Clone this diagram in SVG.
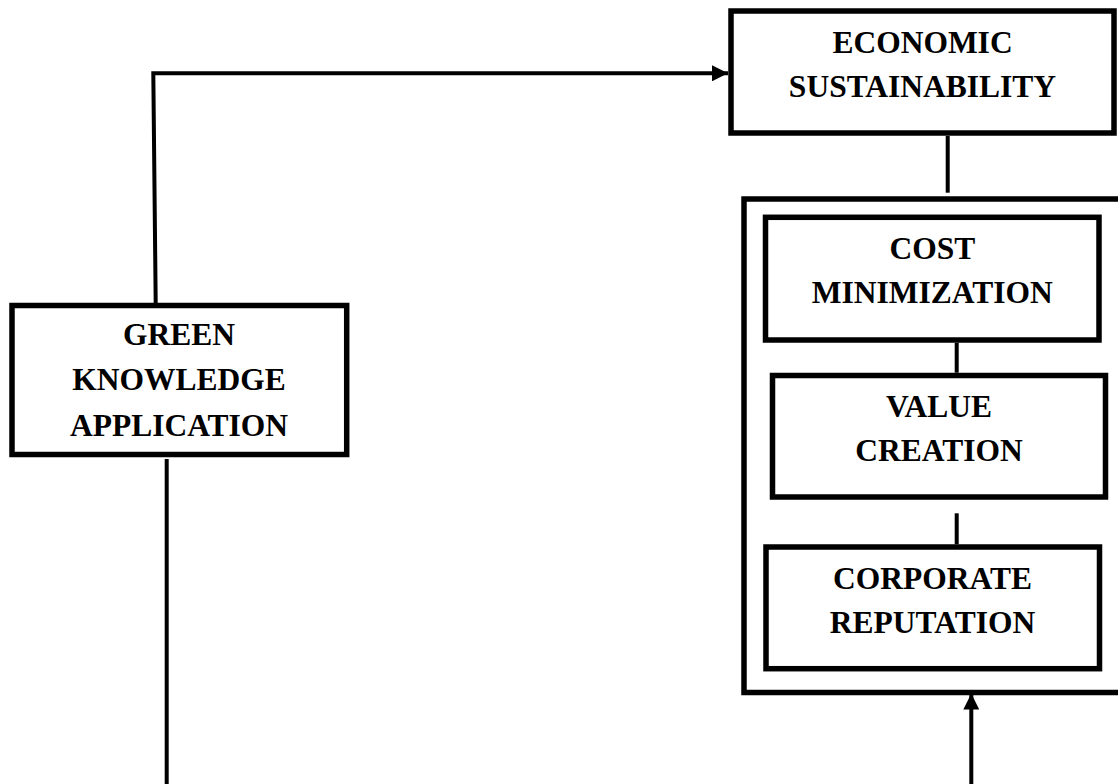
<svg xmlns="http://www.w3.org/2000/svg" width="1118" height="784" viewBox="0 0 1118 784">
<style>
.box{fill:#fff;stroke:#000;stroke-width:5.5}
.lbl{font-family:"Liberation Serif","Times New Roman",serif;font-weight:bold;font-size:31.5px;text-anchor:middle;fill:#000}
.con{fill:none;stroke:#000;stroke-width:4}
</style>
<defs>
<marker id="ah" markerUnits="userSpaceOnUse" markerWidth="16" markerHeight="16" refX="16" refY="8" orient="auto">
<path d="M0,0 L16,8 L0,16 Z" fill="#000"/>
</marker>
</defs>
<rect width="1118" height="784" fill="#fff"/>
<g id="economic-sustainability">
<rect class="box" x="731" y="11" width="383" height="122"/>
<text class="lbl" x="922.5" y="53.3">ECONOMIC</text>
<text class="lbl" x="922.5" y="96.7">SUSTAINABILITY</text>
</g>
<g id="container">
<rect class="box" x="744" y="199" width="380" height="493.5"/>
</g>
<g id="cost-minimization">
<rect class="box" x="765.5" y="217.3" width="333.5" height="122.7"/>
<text class="lbl" x="932.3" y="259.3">COST</text>
<text class="lbl" x="932.3" y="303.3">MINIMIZATION</text>
</g>
<g id="value-creation">
<rect class="box" x="772.5" y="375.5" width="333" height="121.5"/>
<text class="lbl" x="939" y="417.3">VALUE</text>
<text class="lbl" x="939" y="460.7">CREATION</text>
</g>
<g id="corporate-reputation">
<rect class="box" x="766" y="547" width="333.5" height="121.7"/>
<text class="lbl" x="932.5" y="588.7">CORPORATE</text>
<text class="lbl" x="932.5" y="632.7">REPUTATION</text>
</g>
<g id="green-knowledge-application">
<rect class="box" x="12" y="305.5" width="334.7" height="149"/>
<text class="lbl" x="179" y="345">GREEN</text>
<text class="lbl" x="179" y="390">KNOWLEDGE</text>
<text class="lbl" x="179" y="436">APPLICATION</text>
</g>
<g id="connectors">
<path class="con" d="M155.7,303 L153.3,73.3 L728,73.3" marker-end="url(#ah)"/>
<line class="con" x1="166.7" y1="459" x2="166.7" y2="784"/>
<line class="con" x1="947.7" y1="136" x2="947.7" y2="192.7"/>
<line class="con" x1="956.7" y1="342.8" x2="956.7" y2="372.7"/>
<line class="con" x1="956.7" y1="513.3" x2="956.7" y2="544.3"/>
<path class="con" d="M971.3,784 L971.3,693.5" marker-end="url(#ah)"/>
</g>
</svg>
